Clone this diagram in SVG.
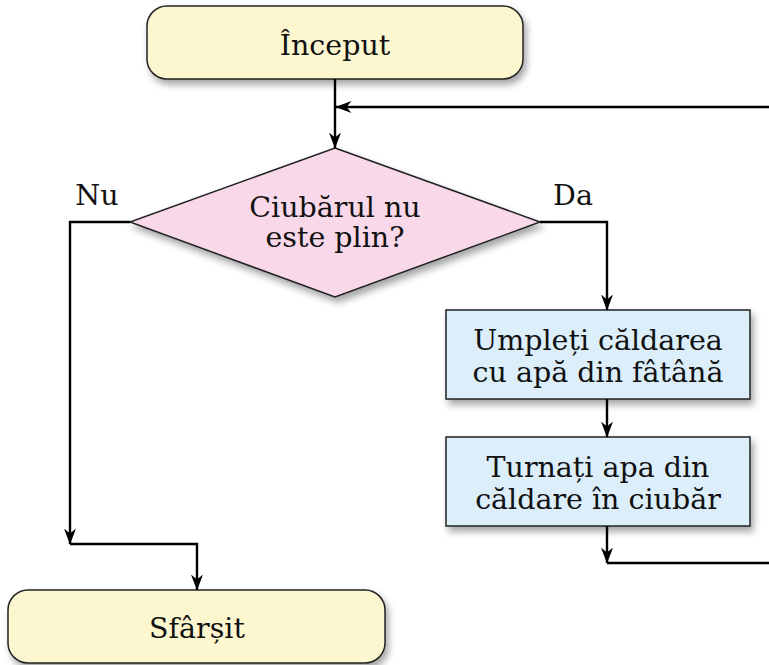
<svg xmlns="http://www.w3.org/2000/svg" width="769" height="665" viewBox="0 0 769 665">
<defs>
<filter id="sh" x="-20%" y="-20%" width="140%" height="150%">
<feDropShadow dx="3" dy="5" stdDeviation="3.5" flood-color="#000" flood-opacity="0.35"/>
</filter>
<marker id="ar" viewBox="0 0 16 12" refX="15.5" refY="6" markerWidth="16" markerHeight="12" markerUnits="userSpaceOnUse" orient="auto">
<path d="M0,0 L16,6 L0,12 L5,6 Z" fill="#000"/>
</marker>
</defs>
<style>
.t{font-family:"DejaVu Serif","Liberation Serif",serif;font-size:28.5px;fill:#111;text-anchor:middle}
.term{fill:#fdf7d0;stroke:#222;stroke-width:1.5}
.dec{fill:#f9d9e9;stroke:#222;stroke-width:1.5}
.proc{fill:#dbeefa;stroke:#222;stroke-width:1.5}
.c{fill:none;stroke:#000;stroke-width:2.4}
</style>
<g id="start">
<rect class="term" x="147" y="6" width="376" height="73" rx="20" filter="url(#sh)"/>
<text class="t" x="335" y="55">Început</text>
</g>
<g id="decision">
<polygon class="dec" points="335,148 540,222 335,297 130,222" filter="url(#sh)"/>
<text class="t" x="335" y="217">Ciubărul nu</text>
<text class="t" x="335" y="247">este plin?</text>
</g>
<g id="fill">
<rect class="proc" x="446" y="310" width="304" height="89" filter="url(#sh)"/>
<text class="t" x="598" y="350">Umpleți căldarea</text>
<text class="t" x="598" y="382">cu apă din fâtână</text>
</g>
<g id="pour">
<rect class="proc" x="446" y="437" width="304" height="89" filter="url(#sh)"/>
<text class="t" x="598" y="477">Turnați apa din</text>
<text class="t" x="598" y="509">căldare în ciubăr</text>
</g>
<g id="end">
<rect class="term" x="8" y="590" width="377" height="73" rx="20" filter="url(#sh)"/>
<text class="t" x="197" y="638">Sfârșit</text>
</g>
<g id="connectors">
<path class="c" d="M335,79 V148" marker-end="url(#ar)"/>
<path class="c" d="M769,107 H336" marker-end="url(#ar)"/>
<path class="c" d="M130,222 H70 V544" marker-end="url(#ar)"/>
<path class="c" d="M70,544 H197 V590" marker-end="url(#ar)"/>
<path class="c" d="M540,222 H607 V310" marker-end="url(#ar)"/>
<path class="c" d="M607,399 V437" marker-end="url(#ar)"/>
<path class="c" d="M607,526 V563" marker-end="url(#ar)"/>
<path class="c" d="M607,563 H769"/>
<text class="t" x="97" y="205">Nu</text>
<text class="t" x="573" y="205">Da</text>
</g>
</svg>
